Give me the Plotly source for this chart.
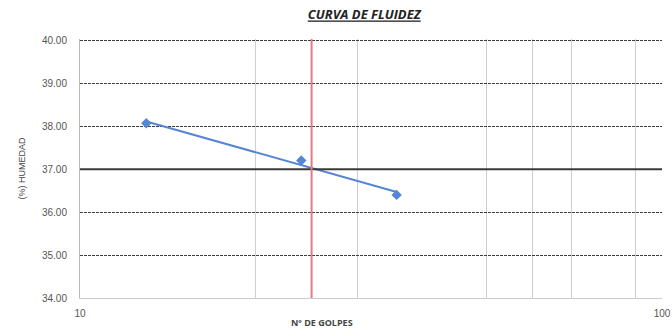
import numpy as np
import plotly.graph_objects as go

# Ensayo de límite líquido (Casagrande)
golpes = [13, 24, 35]
humedad = [38.07, 37.20, 36.40]

# Referencias: 25 golpes y humedad correspondiente
golpes_ref = 25
humedad_ref = 37.00

# Rejilla vertical secundaria (escala logarítmica)
rejilla_x = [20, 30, 50, 60, 70, 90]
ticks_x = [10, 100]
ticks_y = [34, 35, 36, 37, 38, 39, 40]

# Línea de tendencia logarítmica (ajuste por mínimos cuadrados sobre log10)
lx = np.log10(golpes)
b, a = np.polyfit(lx, humedad, 1)
tend_x = [min(golpes), max(golpes)]
tend_y = [a + b * np.log10(v) for v in tend_x]

blue = "#5585d4"
fig = go.Figure()

fig.add_trace(go.Scatter(
    x=tend_x, y=tend_y, mode="lines",
    line=dict(color=blue, width=2), hoverinfo="skip", showlegend=False,
))
fig.add_trace(go.Scatter(
    x=golpes, y=humedad, mode="markers",
    marker=dict(symbol="diamond", size=8, color=blue),
    showlegend=False,
))

fig.add_hline(y=humedad_ref, line=dict(color="#3a3a3a", width=2), layer="above")
fig.add_vline(x=golpes_ref, line=dict(color="#e57a85", width=2), layer="above")

fig.update_layout(
    width=672, height=332,
    margin=dict(l=80, r=10, t=39, b=34),
    paper_bgcolor="white", plot_bgcolor="white",
    font=dict(family="Liberation Sans, Arial", size=10, color="#555555"),
    title=dict(
        text="<b><i><u>CURVA DE FLUIDEZ</u></i></b>",
        x=0.542, xanchor="center", y=0.955, yanchor="middle",
        font=dict(family="Open Sans", size=13, color="#222222"),
    ),
    xaxis=dict(
        type="log", range=[1, 2], automargin=False,
        tickvals=ticks_x, ticktext=[str(v) for v in ticks_x],
        showgrid=False, zeroline=False,
        showline=True, linecolor="#cccccc", linewidth=1,
        ticks="", ticklabelstandoff=6,
        minor=dict(tickvals=rejilla_x, showgrid=True,
                   gridcolor="#cfcfcf", gridwidth=1, griddash="solid"),
        tickfont=dict(size=10, color="#555555"),
    ),
    yaxis=dict(
        range=[34, 40.03], tickvals=ticks_y, tickformat=".2f",
        showgrid=True, gridcolor="#3c3c3c", gridwidth=1.2, griddash="3px,1px",
        zeroline=False, automargin=False,
        showline=True, linecolor="#bbbbbb", linewidth=1,
        ticks="", ticklabelstandoff=10,
        tickfont=dict(size=10, color="#555555"),
        title=dict(text="(%) HUMEDAD", standoff=14,
                   font=dict(size=9, color="#444444")),
    ),
    annotations=[dict(
        text="<b>Nº DE GOLPES</b>", xref="paper", yref="paper",
        x=0.415, y=-0.095, xanchor="center", yanchor="middle",
        showarrow=False, font=dict(family="Open Sans", size=9, color="#444444"),
    )],
)

fig.write_html("out.html")
